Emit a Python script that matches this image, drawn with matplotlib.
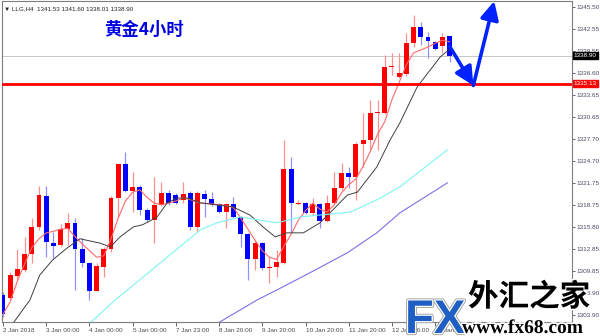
import numpy as np
import matplotlib
matplotlib.use("Agg")
from matplotlib import pyplot as plt
from matplotlib import patheffects as pe

# %% H4 candles
opens = [1306.61, 1306.21, 1309.18, 1310.00, 1312.16, 1315.80, 1319.99, 1313.64, 1313.37, 1315.53,
         1316.34, 1312.83, 1310.94, 1307.16, 1310.40, 1312.83, 1319.72, 1324.31, 1320.66, 1321.20,
         1318.10, 1316.75, 1318.77, 1320.39, 1320.12, 1319.44, 1320.39, 1315.80, 1320.26, 1319.58,
         1318.90, 1317.83, 1318.90, 1317.15, 1314.86, 1311.48, 1313.64, 1310.27, 1310.40, 1310.94,
         1323.63, 1318.90, 1319.04, 1317.69, 1318.90, 1316.61, 1319.04, 1321.07, 1323.09, 1322.55,
         1327.00, 1327.54, 1331.19, 1331.19, 1337.40, 1336.05, 1336.46, 1340.64, 1342.80, 1341.45,
         1340.78, 1340.24, 1341.53]
highs = [1307.01, 1309.72, 1312.83, 1314.45, 1317.02, 1321.34, 1321.34, 1315.13, 1316.21, 1317.69,
         1317.02, 1314.32, 1311.08, 1310.94, 1313.10, 1319.99, 1324.44, 1325.93, 1323.23, 1321.47,
         1318.37, 1322.55, 1321.88, 1320.80, 1320.39, 1321.88, 1320.66, 1320.66, 1320.80, 1320.53,
         1319.04, 1319.04, 1319.85, 1317.29, 1314.99, 1314.05, 1313.78, 1311.75, 1312.69, 1327.54,
         1325.25, 1319.44, 1319.18, 1319.72, 1319.04, 1320.12, 1323.23, 1324.44, 1323.90, 1327.27,
         1331.19, 1332.94, 1332.94, 1339.02, 1339.29, 1339.29, 1341.99, 1344.42, 1343.48, 1342.13,
         1340.91, 1341.99, 1341.60]
lows = [1303.64, 1305.95, 1308.64, 1309.73, 1310.94, 1315.40, 1311.75, 1311.62, 1313.10, 1313.37,
        1307.29, 1310.40, 1305.94, 1307.16, 1309.05, 1312.42, 1317.15, 1320.53, 1317.83, 1317.42,
        1316.48, 1313.64, 1318.63, 1318.77, 1318.90, 1319.04, 1315.40, 1315.13, 1317.15, 1318.63,
        1317.69, 1315.67, 1317.02, 1313.10, 1308.64, 1310.00, 1310.00, 1308.24, 1309.05, 1310.81,
        1315.13, 1318.77, 1317.56, 1317.42, 1315.67, 1316.48, 1318.90, 1320.80, 1321.07, 1319.44,
        1323.90, 1326.19, 1326.19, 1331.06, 1336.32, 1335.92, 1336.19, 1340.10, 1340.37, 1338.62,
        1339.69, 1339.29, 1338.01]
closes = [1304.04, 1309.32, 1310.13, 1312.16, 1315.80, 1320.12, 1313.78, 1313.24, 1315.53, 1316.34,
          1312.83, 1310.94, 1307.16, 1310.54, 1312.83, 1319.72, 1324.31, 1320.66, 1321.20, 1318.10,
          1316.75, 1318.77, 1320.39, 1319.04, 1319.04, 1320.26, 1315.80, 1320.39, 1319.58, 1318.90,
          1317.83, 1318.90, 1317.15, 1314.86, 1311.48, 1313.64, 1310.27, 1310.40, 1311.08, 1323.63,
          1319.04, 1319.04, 1317.69, 1318.90, 1316.61, 1319.04, 1321.07, 1323.09, 1322.55, 1327.00,
          1327.54, 1331.19, 1331.33, 1337.40, 1337.53, 1336.59, 1340.64, 1342.80, 1341.45, 1340.91,
          1339.83, 1341.45, 1338.90]

# %% moving averages (bar position, price)
ma_red = [1304.0, 1305.7, 1308.5, 1310.8, 1313.0, 1314.2, 1315.0, 1315.2, 1315.5, 1315.6,
          1314.5, 1313.5, 1312.6, 1311.7, 1311.9, 1314.2, 1317.0, 1319.3, 1320.5, 1320.8,
          1319.8, 1319.0, 1318.8, 1319.0, 1319.3, 1319.7, 1319.5, 1319.1, 1319.0, 1318.9,
          1318.8, 1318.7, 1318.4, 1317.0, 1315.5, 1314.0, 1312.6, 1311.7, 1311.4, 1313.2,
          1314.8, 1316.7, 1318.0, 1319.0, 1318.2, 1317.8, 1318.8, 1320.4, 1321.5, 1322.3,
          1324.0, 1326.0, 1328.3, 1330.0, 1333.0, 1335.3, 1337.7, 1339.3, 1339.7, 1340.1,
          1340.6, 1341.0, 1340.8]
ma_black_x = [1.4, 3.75, 5.1, 6.9, 8.9, 10.7, 13.5, 14.9, 16.25, 18.1, 19.4, 21.4, 22.8, 24.2, 25.6,
              27.4, 31.9, 34.3, 36.1, 37.8, 39.4, 41.7, 44.0, 45.8, 47.8, 49.2, 51.9, 53.75, 55.1,
              57.5, 60.7, 62.0]
ma_black_y = [1302.8, 1305.95, 1309.3, 1311.35, 1312.95, 1314.2, 1313.6, 1313.1, 1314.45, 1315.8,
              1316.1, 1317.15, 1319.05, 1319.7, 1319.7, 1319.05, 1318.5, 1317.4, 1315.8, 1314.45,
              1315.0, 1315.0, 1316.35, 1318.1, 1320.1, 1320.5, 1323.9, 1327.55, 1329.85, 1334.7,
              1338.75, 1339.8]
ma_cyan_x = [12.1, 15.6, 27.4, 29.7, 32.9, 38.05, 41.25, 48.2, 51.9, 55.1, 61.7]
ma_cyan_y = [1302.85, 1305.95, 1315.4, 1316.35, 1317.15, 1316.35, 1317.15, 1317.8, 1319.45, 1321.2, 1326.2]
ma_purple_x = [29.9, 35.3, 38.05, 42.6, 47.8, 51.9, 55.1, 61.7]
ma_purple_y = [1302.85, 1305.95, 1307.3, 1309.6, 1312.3, 1315.0, 1317.7, 1321.75]

support = 1335.13
last_price = 1338.90
arrow_x = [62.0, 65.3, 68.2]
arrow_y = [1340.2, 1334.9, 1346.3]

ytick_vals = [1345.50, 1342.55, 1339.55, 1336.60, 1333.65, 1330.65, 1327.70, 1324.70,
              1321.75, 1318.75, 1315.80, 1312.85, 1309.85, 1306.90, 1303.90]
xtick_pos = [0, 6, 12, 18, 24, 30, 36, 42, 48, 54, 60]
xtick_labels = ["2 Jan 2018", "3 Jan 00:00", "4 Jan 00:00", "5 Jan 00:00", "7 Jan 23:00",
                "8 Jan 20:00", "9 Jan 20:00", "10 Jan 20:00", "11 Jan 20:00", "12 Jan 16:00",
                "15 Jan 16:00"]

# %%
small = "Liberation Sans"
fig = plt.figure(figsize=(6, 3.36), dpi=100)
ax = fig.add_axes([2 / 600, 1 - 322 / 336, 570 / 600, 321 / 336])
ax.set_xlim(-0.14, 79.0)
ax.set_ylim(1302.96, 1346.31)

o = np.array(opens)
h = np.array(highs)
l = np.array(lows)
c = np.array(closes)
idx = np.arange(len(o))
up = c >= o
body_col = np.where(up, "#ff0000", "#0000ff")
wick_col = np.where(up, "#ff9090", "#9090ff")

ax.vlines(idx, l, h, colors=wick_col, linewidth=0.9, zorder=2)
ax.bar(idx, np.maximum(np.abs(c - o), 0.14), bottom=np.minimum(o, c), width=0.68,
       color=body_col, linewidth=0, zorder=3)

ax.plot(idx, ma_red, color="#ff6a6a", lw=0.8, zorder=4)
ax.plot(ma_black_x, ma_black_y, color="#404040", lw=0.7, zorder=4)
ax.plot(ma_cyan_x, ma_cyan_y, color="#7ff5f5", lw=0.8, zorder=4)
ax.plot(ma_purple_x, ma_purple_y, color="#7a72e6", lw=0.8, zorder=4)

ax.axhline(last_price, color="#c8c8c8", lw=0.7, zorder=1)
ax.axhline(support, color="#ff0000", lw=2.0, zorder=5)

# forecast arrows
for k in range(len(arrow_x) - 1):
    ax.annotate("", xy=(arrow_x[k + 1], arrow_y[k + 1]), xytext=(arrow_x[k], arrow_y[k]),
                arrowprops=dict(arrowstyle="-|>,head_length=1.0,head_width=0.5", color="#0022ff",
                                lw=2.6, mutation_scale=11, shrinkA=0, shrinkB=0),
                zorder=6, annotation_clip=False)

# axes styling
for s in ax.spines.values():
    s.set_color("#7f7f7f")
    s.set_linewidth(0.8)
ax.yaxis.tick_right()
ax.set_yticks(ytick_vals)
ax.set_yticklabels([f"{v:.2f}" for v in ytick_vals], family=small)
ax.tick_params(axis="y", length=2, width=0.6, pad=1, labelsize=4.6, colors="#4a4a66")
ax.set_xticks(xtick_pos)
ax.set_xticklabels(xtick_labels, family=small)
ax.tick_params(axis="x", length=3, width=0.6, pad=1.5, labelsize=4.6, colors="#4a4a4a")
for lbl in ax.get_xticklabels():
    lbl.set_ha("left")

# price boxes on the axis
ax.text(1.003, last_price, "1338.90", transform=ax.get_yaxis_transform(), fontsize=4.6,
        family=small, color="white", va="center", ha="left",
        bbox=dict(boxstyle="square,pad=0.15", fc="black", ec="black"), zorder=7)
ax.text(1.003, support, "1335.13", transform=ax.get_yaxis_transform(), fontsize=4.6,
        family=small, color="white", va="center", ha="left",
        bbox=dict(boxstyle="square,pad=0.15", fc="#ff0000", ec="#ff0000"), zorder=7)

ax.text(0.004, 0.985, "\u25bc LLG,H4  1341.53 1341.60 1338.01 1338.90", transform=ax.transAxes,
        fontsize=4.5, va="top", ha="left", color="#222222", family=[small, "DejaVu Sans"])
ax.text(102 / 570, 1 - 29 / 321, "黄金4小时", transform=ax.transAxes, fontsize=12.5,
        fontweight="bold", color="#0000e0", va="center", ha="left",
        family=["Noto Sans CJK SC", "DejaVu Sans"])

# watermark
halo = [pe.withStroke(linewidth=2.5, foreground="white")]
fig.text(405 / 600, 1 - 333 / 336, "FX", fontsize=34, fontweight="bold", color="#1f5fc4",
         family="Liberation Sans", ha="left", va="baseline", zorder=20,
         path_effects=[pe.withStroke(linewidth=3, foreground="#9a9a9a"),
                       pe.withStroke(linewidth=1.8, foreground="white")])
fig.text(468 / 600, 1 - 297 / 336, "外汇之家", fontsize=22, fontweight="heavy", color="black",
         family=["Noto Sans CJK SC", "DejaVu Sans"], ha="left", va="center", zorder=20,
         path_effects=halo)
fig.text(462 / 600, 1 - 333 / 336, "www.fx68.com", fontsize=14, fontweight="bold", color="black",
         family="Liberation Serif", ha="left", va="baseline", zorder=20, path_effects=halo)

fig.savefig("out.png", dpi=100)
